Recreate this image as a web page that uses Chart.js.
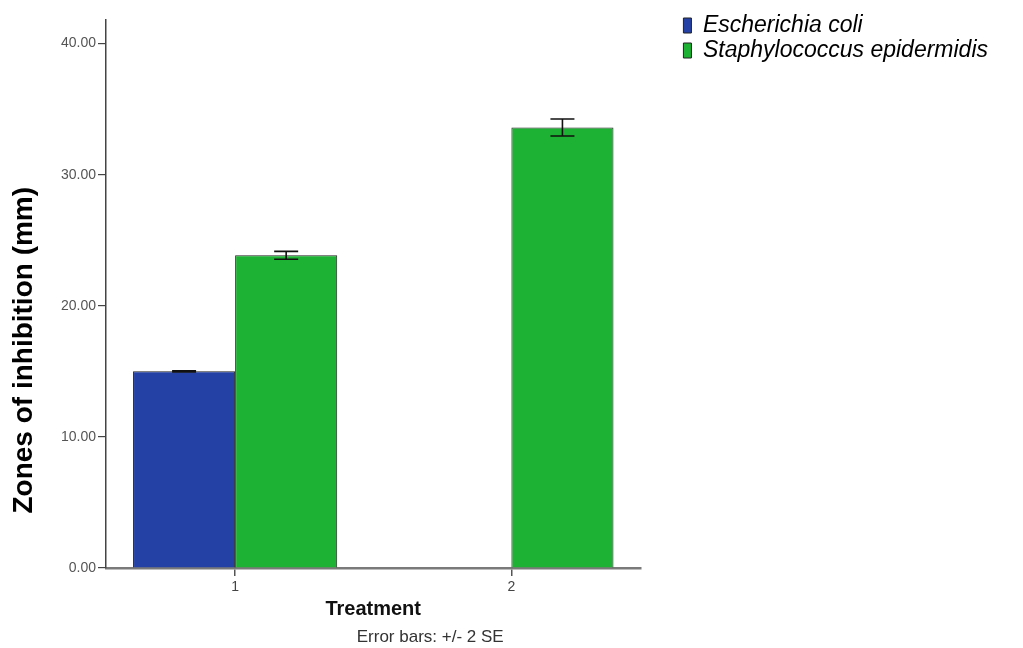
<!DOCTYPE html>
<html>
<head>
<meta charset="utf-8">
<title>Zones of inhibition</title>
<script src="https://cdn.jsdelivr.net/npm/chart.js@4.4.1/dist/chart.umd.min.js"></script>
<style>
  html, body { margin: 0; padding: 0; background: #fff; }
  canvas { display: block; }
</style>
</head>
<body>
<canvas id="zonesChart" width="1023" height="648"></canvas>
<script>
// values (error bars = 2 SE)
const treatments = [1, 2]
const seriesNames = ['Escherichia coli', 'Staphylococcus epidermidis']
const ecoliMeans = [15.0, null]
const ecoliErr = [0.05, null]
const staphMeans = [23.85, 33.6]
const staphErr = [0.3, 0.65]
const yTicks = [0, 10, 20, 30, 40]
const footnote = 'Error bars: +/- 2 SE'

const fontFamily = "'Liberation Sans', Arial, sans-serif"

const toPoints = (means) => treatments.map((t, i) => ({ x: t, y: means[i] }))

// draws +/- error whiskers on top of every bar
const errorBarsPlugin = {
  id: 'errorBars',
  afterDatasetsDraw(chart) {
    const ctx = chart.ctx
    const yScale = chart.scales.y
    chart.data.datasets.forEach((ds, i) => {
      const meta = chart.getDatasetMeta(i)
      ds.errors.forEach((err, j) => {
        const mean = ds.data[j].y
        if (mean === null || err === null) return
        const bar = meta.data[j]
        const top = yScale.getPixelForValue(mean + err)
        const bottom = yScale.getPixelForValue(mean - err)
        const half = 12
        ctx.save()
        ctx.strokeStyle = '#111'
        ctx.lineWidth = 1.6
        ctx.beginPath()
        ctx.moveTo(bar.x, top)
        ctx.lineTo(bar.x, bottom)
        ctx.moveTo(bar.x - half, top)
        ctx.lineTo(bar.x + half, top)
        ctx.moveTo(bar.x - half, bottom)
        ctx.lineTo(bar.x + half, bottom)
        ctx.stroke()
        ctx.restore()
      })
    })
  }
}

// SPSS puts the error bar note a bit right of the axis title
const footnotePlugin = {
  id: 'footnote',
  afterDraw(chart) {
    const ctx = chart.ctx
    const area = chart.chartArea
    ctx.save()
    ctx.font = `17px ${fontFamily}`
    ctx.fillStyle = '#333'
    ctx.textAlign = 'center'
    ctx.textBaseline = 'middle'
    ctx.fillText(footnote, (area.left + area.right) / 2 + 57, chart.height - 11)
    ctx.restore()
  }
}

const ctxZones = document.getElementById('zonesChart').getContext('2d')

const chartZones = new Chart(ctxZones, {
  type: 'bar',
  data: {
    datasets: [
      {
        label: seriesNames[0],
        data: toPoints(ecoliMeans),
        errors: ecoliErr,
        backgroundColor: '#2441a6',
        borderColor: '#222',
        borderWidth: 1,
      },
      {
        label: seriesNames[1],
        data: toPoints(staphMeans),
        errors: staphErr,
        backgroundColor: '#1db233',
        borderColor: '#222',
        borderWidth: 1,
      }
    ]
  },
  options: {
    responsive: false,
    animation: false,
    events: [],
    layout: {
      padding: { top: 12, right: 25, bottom: 21.2, left: 0 }
    },
    datasets: {
      bar: {
        barPercentage: 1,
        categoryPercentage: 0.739,
      }
    },
    scales: {
      x: {
        type: 'linear',
        min: 0.5326,
        max: 2.467,
        offset: false,
        afterBuildTicks: (scale) => {
          scale.ticks = treatments.map(v => ({ value: v }))
        },
        afterFit: (scale) => { scale.height = 58.8 },
        border: { display: true, color: '#7a7a7a', width: 2.5 },
        grid: {
          display: true,
          offset: false,
          drawOnChartArea: false,
          drawTicks: true,
          tickLength: 8,
          color: '#555',
          lineWidth: 1.5,
        },
        ticks: {
          padding: 3,
          color: '#444',
          font: { family: fontFamily, size: 14 },
          callback: (v) => String(v),
        },
        title: {
          display: true,
          text: 'Treatment',
          color: '#111',
          padding: { top: 4, bottom: 5 },
          font: { family: fontFamily, size: 20, weight: 'bold' },
        }
      },
      y: {
        type: 'linear',
        min: 0,
        max: 41.8,
        position: 'left',
        afterBuildTicks: (scale) => {
          scale.ticks = yTicks.map(v => ({ value: v }))
        },
        afterFit: (scale) => { scale.width = 106 },
        border: { display: true, color: '#444', width: 1.5 },
        grid: {
          display: true,
          drawOnChartArea: false,
          drawTicks: true,
          tickLength: 8,
          color: '#444',
          lineWidth: 1.2,
        },
        ticks: {
          padding: 2,
          color: '#555',
          font: { family: fontFamily, size: 14 },
          callback: (v) => Number(v).toFixed(2),
        },
        title: {
          display: true,
          // leading blanks lift the label off the axis bottom like the original
          text: '       Zones of inhibition (mm)',
          align: 'start',
          color: '#000',
          padding: { top: 7.7, bottom: 0 },
          font: { family: fontFamily, size: 28, weight: 'bold' },
        }
      },
      // empty right axis, only keeps the gap between plot and legend
      gap: {
        type: 'linear',
        position: 'right',
        display: true,
        afterFit: (scale) => { scale.width = 41 },
        border: { display: false },
        grid: { display: false, drawTicks: false },
        ticks: { display: false },
      }
    },
    plugins: {
      legend: {
        position: 'right',
        align: 'start',
        maxWidth: 340,
        labels: {
          boxWidth: 8,
          boxHeight: 15,
          padding: 2,
          color: '#000',
          font: { family: fontFamily, size: 23, style: 'italic' },
        }
      },
      title: {
        display: true,
        text: '',
        fullSize: false,
        padding: 0,
        font: { size: 8, lineHeight: 1 },
      },
      tooltip: { enabled: false }
    }
  },
  plugins: [errorBarsPlugin, footnotePlugin]
})
</script>
</body>
</html>
